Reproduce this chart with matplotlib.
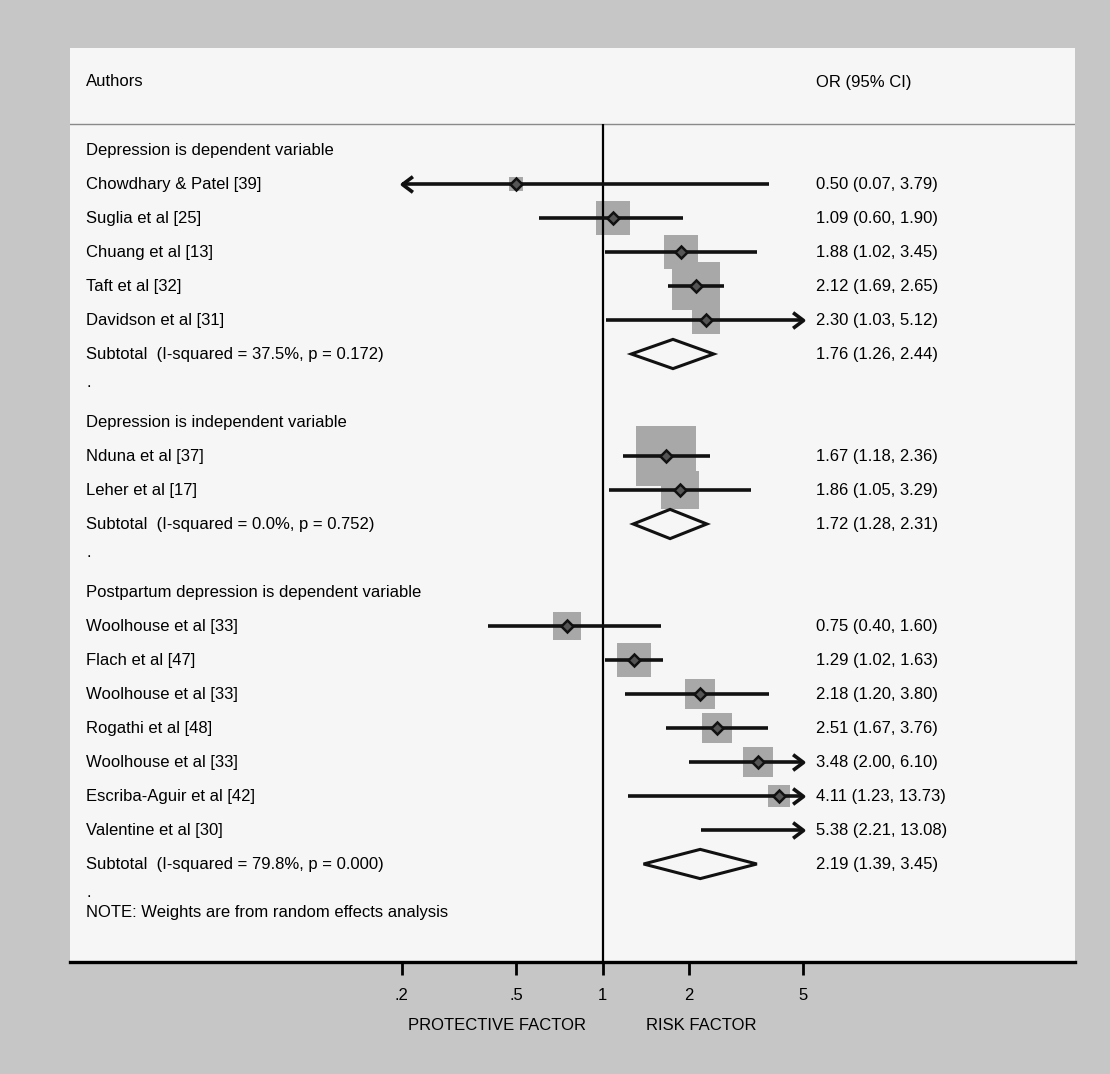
import matplotlib.pyplot as plt
from matplotlib.path import Path
from matplotlib.patches import Polygon

plt.rcParams['font.family'] = ['Liberation Sans', 'DejaVu Sans']

# study rows: label, OR, lower, upper, weight (box area)
group_titles = ["Depression is dependent variable",
                "Depression is independent variable",
                "Postpartum depression is dependent variable"]

studies = [
    ["Chowdhary & Patel [39]", "Suglia et al [25]", "Chuang et al [13]",
     "Taft et al [32]", "Davidson et al [31]"],
    ["Nduna et al [37]", "Leher et al [17]"],
    ["Woolhouse et al [33]", "Flach et al [47]", "Woolhouse et al [33]",
     "Rogathi et al [48]", "Woolhouse et al [33]", "Escriba-Aguir et al [42]",
     "Valentine et al [30]"],
]
odds = [
    [0.50, 1.09, 1.88, 2.12, 2.30],
    [1.67, 1.86],
    [0.75, 1.29, 2.18, 2.51, 3.48, 4.11, 5.38],
]
lower = [
    [0.07, 0.60, 1.02, 1.69, 1.03],
    [1.18, 1.05],
    [0.40, 1.02, 1.20, 1.67, 2.00, 1.23, 2.21],
]
upper = [
    [3.79, 1.90, 3.45, 2.65, 5.12],
    [2.36, 3.29],
    [1.60, 1.63, 3.80, 3.76, 6.10, 13.73, 13.08],
]
weights = [
    [2.0, 10.9, 10.9, 22.1, 7.3],
    [37.2, 14.4],
    [7.3, 10.9, 9.0, 9.6, 9.0, 4.8, 3.0],
]

sub_or = [1.76, 1.72, 2.19]
sub_lo = [1.26, 1.28, 1.39]
sub_hi = [2.44, 2.31, 3.45]
sub_i2 = ["37.5%", "0.0%", "79.8%"]
sub_p = ["0.172", "0.752", "0.000"]

tick_vals = [0.2, 0.5, 1, 2, 5]
tick_labels = [".2", ".5", "1", "2", "5"]
x_min, x_max = 0.2, 5   # display range, CIs beyond get arrows

# ---- figure / panel geometry (pixels of the 1110x1074 picture)
W, H = 1110, 1074
px_left, px_right, px_top, px_bot = 70, 1075, 48, 962
px_one, px_dec = 602.5, 287     # x=1 position, pixels per decade
row0_px, row_px = 150, 34       # first row centre, row height

fig = plt.figure(figsize=(W / 100, H / 100), dpi=100, facecolor='#c6c6c6')
ax = fig.add_axes([px_left / W, 1 - px_bot / H,
                   (px_right - px_left) / W, (px_bot - px_top) / H])
ax.set_facecolor('#f6f6f6')
ax.set_xscale('log')
ax.set_xlim(10 ** ((px_left - px_one) / px_dec), 10 ** ((px_right - px_one) / px_dec))
ax.set_ylim((px_bot - row0_px) / row_px, (px_top - row0_px) / row_px)

for s in ['top', 'left', 'right']:
    ax.spines[s].set_visible(False)
ax.spines['bottom'].set_linewidth(2.4)
ax.set_yticks([])
ax.set_xticks(tick_vals)
ax.set_xticklabels(tick_labels, fontsize=12)
ax.minorticks_off()
ax.tick_params(axis='x', length=9.5, width=2.0, pad=9, direction='out')

lab_tr = ax.get_yaxis_transform()   # x axes fraction, y data
left_x = (86 - px_left) / (px_right - px_left)
right_x = (816 - px_left) / (px_right - px_left)
fs = 12

header_y = (124 - row0_px) / row_px
ax.text(left_x, -2, "Authors", transform=lab_tr, fontsize=fs, va='center')
ax.text(right_x, -2, "OR (95% CI)", transform=lab_tr, fontsize=fs, va='center')
ax.axhline(header_y, color='#8a8a8a', lw=1)
ax.vlines(1, header_y, ax.get_ylim()[0], color='black', lw=1.6, zorder=3)

chev_r = Path([(-12, 9), (0, 0), (-12, -9)], [Path.MOVETO, Path.LINETO, Path.LINETO])
chev_l = Path([(12, 9), (0, 0), (12, -9)], [Path.MOVETO, Path.LINETO, Path.LINETO])

row = 0
for g in range(len(group_titles)):
    ax.text(left_x, row, group_titles[g], transform=lab_tr, fontsize=fs, va='center')
    row += 1
    for i in range(len(studies[g])):
        o, lo, hi, w = odds[g][i], lower[g][i], upper[g][i], weights[g][i]
        ax.text(left_x, row, studies[g][i], transform=lab_tr, fontsize=fs, va='center')
        ax.text(right_x, row, f"{o:.2f} ({lo:.2f}, {hi:.2f})", transform=lab_tr,
                fontsize=fs, va='center')
        if x_min <= o <= x_max:
            side = 10 * w ** 0.5 * 0.72
            ax.plot(o, row, marker='s', ms=side, color='#a8a8a8', mew=0, zorder=2)
        ax.hlines(row, max(lo, x_min), min(hi, x_max), color='#111111', lw=2.6, zorder=4)
        if lo < x_min:
            ax.plot(x_min, row, marker=chev_l, ms=15, mfc='none', mec='#111111',
                    mew=2.6, zorder=4)
        if hi > x_max:
            ax.plot(x_max, row, marker=chev_r, ms=15, mfc='none', mec='#111111',
                    mew=2.6, zorder=4)
        if x_min <= o <= x_max:
            ax.plot(o, row, marker='D', ms=6, mfc='#555555', mec='#111111',
                    mew=1.8, zorder=5)
        row += 1
    # subtotal diamond
    ax.text(left_x, row, f"Subtotal  (I-squared = {sub_i2[g]}, p = {sub_p[g]})",
            transform=lab_tr, fontsize=fs, va='center')
    ax.text(right_x, row, f"{sub_or[g]:.2f} ({sub_lo[g]:.2f}, {sub_hi[g]:.2f})",
            transform=lab_tr, fontsize=fs, va='center')
    h = 0.43
    dia = Polygon([(sub_lo[g], row), (sub_or[g], row - h), (sub_hi[g], row),
                   (sub_or[g], row + h)], closed=True, fill=False,
                  edgecolor='#111111', lw=2.2, zorder=4)
    ax.add_patch(dia)
    row += 1
    ax.text(left_x, row - 0.15, ".", transform=lab_tr, fontsize=fs, va='center')
    row += 1

ax.text(left_x, (912 - row0_px) / row_px, "NOTE: Weights are from random effects analysis",
        transform=lab_tr, fontsize=fs, va='center')

xa = ax.get_xaxis_transform()
lab_y = (px_bot - 1025) / (px_bot - px_top)
ax.text(10 ** ((497 - px_one) / px_dec), lab_y, "PROTECTIVE FACTOR", transform=xa,
        fontsize=fs, ha='center', va='center')
ax.text(10 ** ((701 - px_one) / px_dec), lab_y, "RISK FACTOR", transform=xa,
        fontsize=fs, ha='center', va='center')

plt.savefig("out.png", dpi=100, facecolor=fig.get_facecolor())
